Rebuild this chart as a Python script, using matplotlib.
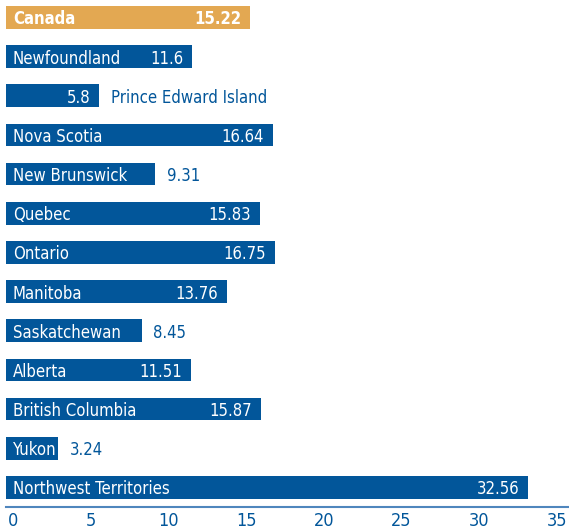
import matplotlib
matplotlib.use("Agg")
import matplotlib.pyplot as plt

plt.rcParams["font.family"] = ["DejaVu Sans"]
plt.rcParams["font.stretch"] = "condensed"

# Values per jurisdiction
provinces = ["Canada", "Newfoundland", "Prince Edward Island", "Nova Scotia",
             "New Brunswick", "Quebec", "Ontario", "Manitoba", "Saskatchewan",
             "Alberta", "British Columbia", "Yukon", "Northwest Territories"]
values = [15.22, 11.6, 5.8, 16.64, 9.31, 15.83, 16.75, 13.76, 8.45,
          11.51, 15.87, 3.24, 32.56]
ticks = [0, 5, 10, 15, 20, 25, 30, 35]

blue = "#02569a"
orange = "#e3a852"
axis_blue = "#4f86bd"
W, H = 569, 529
FS = 12

fig = plt.figure(figsize=(W / 100, H / 100), dpi=100)

# bars axes (fills figure, 0 at px 6, ~16 px per unit)
ax = fig.add_axes([0, 0, 1, 1])
ax.set_xlim(-6 / 16.04, (W - 6) / 16.04)
ax.set_ylim((H - 17.35) / 39.17, -17.35 / 39.17)
ax.axis("off")

colors = [orange] + [blue] * (len(values) - 1)
ax.barh(range(len(values)), values, height=0.58, color=colors)

fig.canvas.draw()
renderer = fig.canvas.get_renderer()

for i, (name, v) in enumerate(zip(provinces, values)):
    weight = "bold" if i == 0 else "normal"
    bar_px = v * 16.04
    kw = dict(fontsize=FS, fontweight=weight, va="center_baseline")
    lab = ax.annotate(name, xy=(0, i), xytext=(5, 0), textcoords="offset points",
                      ha="left", color="white", **kw)
    val = ax.annotate(f"{v:g}", xy=(v, i), xytext=(-6.5, 0), textcoords="offset points",
                      ha="right", color="white", **kw)
    lw = lab.get_window_extent(renderer).width
    vw = val.get_window_extent(renderer).width
    if lw + 7 > bar_px:
        # name outside, value inside
        lab.set_position((8.5, 0))
        lab.xy = (v, i)
        lab.set_color(blue)
    elif lw + vw + 22 > bar_px:
        # value outside
        val.set_position((8.5, 0))
        val.set_ha("left")
        val.set_color(blue)

# scale axis at the bottom
ax2 = fig.add_axes([6 / W, (H - 507) / H, 1 - 6 / W, 0.001])
ax2.set_xlim((6 - 13) / 15.54, (W - 13) / 15.54)
ax2.set_xticks(ticks)
ax2.set_yticks([])
ax2.patch.set_alpha(0)
for s in ["top", "left", "right"]:
    ax2.spines[s].set_visible(False)
ax2.spines["bottom"].set_color(axis_blue)
ax2.spines["bottom"].set_linewidth(1.5)
ax2.tick_params(axis="x", length=0, pad=3.5, labelsize=13, labelcolor=blue)

fig.savefig("out.png", dpi=100)
